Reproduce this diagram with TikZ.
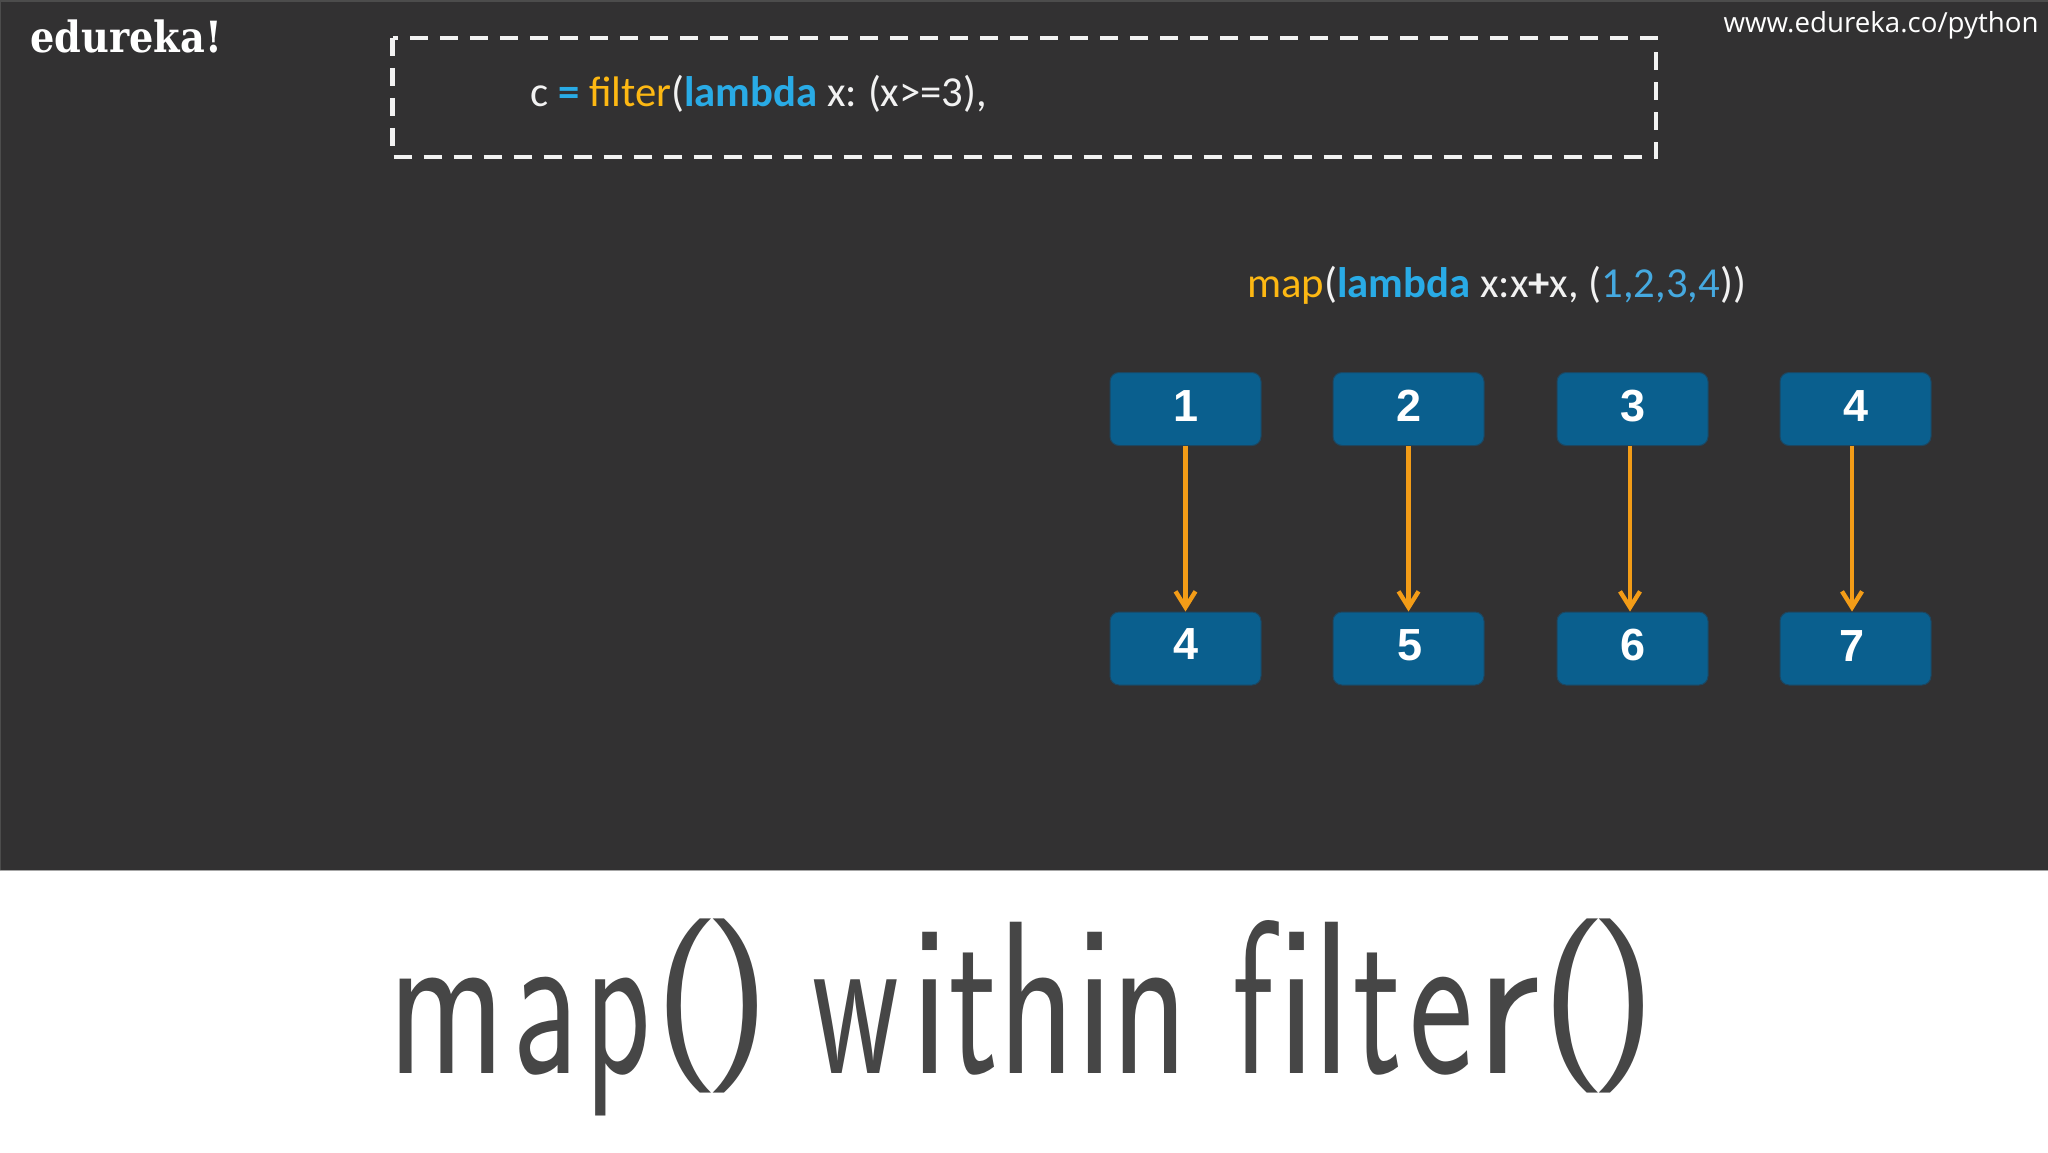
\documentclass[tikz,border=0pt]{standalone}
\usepackage{fontspec}
\usepackage{graphicx}
\usetikzlibrary{arrows.meta}
\setmainfont{Carlito}
\newfontfamily\digitfont{Liberation Sans}[BoldFont={* Bold}]
\newfontfamily\logofont{DejaVu Serif}
\newfontfamily\urlfont{Open Sans}
\definecolor{bgdark}{HTML}{323132}
\definecolor{boxblue}{HTML}{0A5F8E}
\definecolor{boxedge}{HTML}{1D4660}
\definecolor{arroworange}{HTML}{F39C17}
\definecolor{kwyellow}{HTML}{FDB813}
\definecolor{kwblue}{HTML}{29ABE6}
\definecolor{numblue}{HTML}{45A9E0}
\definecolor{titlegray}{HTML}{464646}
\tikzset{
  numbox/.style={draw=boxedge,line width=0.5pt,fill=boxblue,rounded corners=4.5pt,
    minimum width=75.5pt,minimum height=36.5pt,inner sep=0pt,text=white,
    font=\digitfont\fontsize{22.5}{24}\bfseries\selectfont},
  flow/.style={draw=arroworange,line width=2.3pt,
    -{Straight Barb[length=8pt,width=10pt,line width=2.2pt]}},
  codeline/.style={anchor=base west,inner sep=0pt,text=white!95!black,
    font=\fontsize{21.35}{24}\selectfont},
}
\newcommand{\Lift}[2]{\raisebox{#1}{#2}}
% one title glyph: ink left (px), left bearing (px), x scale, glyph
\newcommand{\Gly}[4]{\pgfmathsetlengthmacro{\gx}{(#1-#2*#3-396)*0.5pt}\rlap{\hspace{\gx}\scalebox{#3}[1]{#4}}}
\newcommand{\Par}[3]{\pgfmathsetlengthmacro{\gx}{(#1-#2-396)*0.5pt}\rlap{\hspace{\gx}\raisebox{12pt}{\scalebox{.85}[.8]{#3}}}}
\newcommand{\Gap}{\rlap{\ }}
\begin{document}
\begin{tikzpicture}[x=0.5pt,y=-0.5pt]
\useasboundingbox (0,0) rectangle (2048,1152);
\fill[white] (0,0) rectangle (2048,1152);
\fill[bgdark] (0,0) rectangle (2048,870);
\draw[gray!70,line width=0.7pt] (0,870.5) -- (2048,870.5);
\draw[gray!60!black,line width=0.8pt] (0.5,870) -- (0.5,0.7) -- (2048,0.7);

\node[anchor=base west,inner sep=0pt,text=white,font=\logofont\fontsize{21.5}{24}\bfseries\selectfont] (logo) at (30,52) {\scalebox{.89}[1]{edureka!}};
\node[anchor=base east,inner sep=0pt,text=white,font=\urlfont\fontsize{13.85}{16}\selectfont] (url) at (2039,32) {www.edureka.co/python};

\draw[white!95!black,line width=2.4pt,dash pattern=on 9pt off 6pt] (392.5,38) rectangle (1656,157);

\node[codeline] (filterline) at (530,106) {c \textcolor{kwblue}{\textbf{=}} \textcolor{kwyellow}{filter}(\textcolor{kwblue}{\textbf{lambda}} x:\hspace{-1pt} (x>=3),};
\node[codeline] (mapline) at (1247,297) {\textcolor{kwyellow}{map}(\textcolor{kwblue}{\textbf{lambda}} x:x\textbf{+}x, (\textcolor{numblue}{1,2,3,4}))};

\node[numbox] (a1) at (1185.5,409) {\Lift{2.8pt}{1}};
\node[numbox] (a2) at (1408.5,409) {\Lift{2.8pt}{2}};
\node[numbox] (a3) at (1632.5,409) {\Lift{2.8pt}{3}};
\node[numbox] (a4) at (1855.5,409) {\Lift{2.8pt}{4}};
\node[numbox] (b1) at (1185.5,648.5) {\Lift{4.3pt}{4}};
\node[numbox] (b2) at (1408.5,648.5) {\hspace{1pt}\Lift{3.3pt}{5}};
\node[numbox] (b3) at (1632.5,648.5) {\Lift{3.3pt}{6}};
\node[numbox] (b4) at (1855.5,648.5) {\hspace{-3.5pt}\Lift{2pt}{7}};

\draw[flow] (a1.south) -- (b1.north);
\draw[flow] (a2.south) -- (b2.north);
\draw[flow] ([xshift=-1.25pt]a3.south) -- ([xshift=-1.25pt]b3.north);
\draw[flow] ([xshift=-1.75pt]a4.south) -- ([xshift=-1.75pt]b4.north);

\node[anchor=base west,inner sep=0pt,text=titlegray,font=\sffamily\fontsize{109}{120}\selectfont,text width=626pt] (title) at (396,1073) {%
\Gly{400}{17}{.72}{m}\Gly{518}{9}{.67}{a}\Gly{596}{17}{.62}{p}\Par{672}{19}{(}\Par{722}{19}{)}\Gap
\Gly{815}{4}{.62}{w}\Gly{924}{17}{.8}{i}\Gly{952}{4}{.66}{t}\Gly{1011}{17}{.73}{h}\Gly{1089}{17}{.8}{i}\Gly{1124}{17}{.73}{n}\Gap
\Gly{1235}{4}{.66}{f}\Gly{1291}{17}{.8}{i}\Gly{1326}{17}{.8}{l}\Gly{1356}{4}{.66}{t}\Gly{1415}{9}{.7}{e}\Gly{1491}{17}{.93}{r}\Par{1559}{19}{(}\Par{1608}{19}{)}\hfill\null};
\end{tikzpicture}
\end{document}
